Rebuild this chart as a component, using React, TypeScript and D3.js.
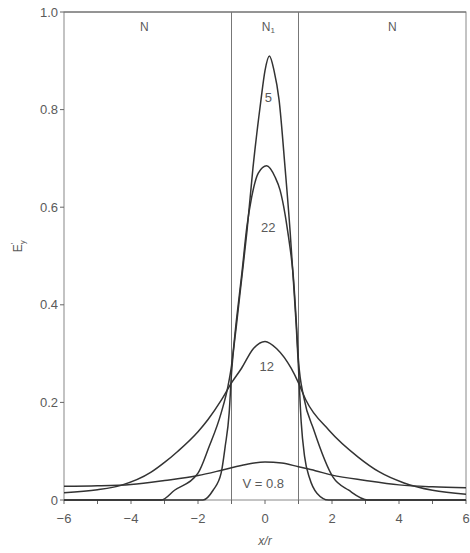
import { useEffect, useRef } from "react";
import * as d3 from "d3";

// curve points: [x/r, Ey]
const curveV5: [number, number][] = [
  [-6, 0], [-3, 0], [-1.85, 0], [-1.55, 0.02], [-1.31, 0.055], [-1.19, 0.109],
  [-1.07, 0.178], [-1.0, 0.26], [-0.85, 0.36], [-0.69, 0.457], [-0.54, 0.55],
  [-0.36, 0.68], [-0.12, 0.82], [0.0, 0.88], [0.13, 0.91], [0.27, 0.88],
  [0.42, 0.82], [0.6, 0.68], [0.75, 0.55], [0.84, 0.457], [0.93, 0.36],
  [1.0, 0.27], [1.08, 0.16], [1.18, 0.09], [1.33, 0.045], [1.55, 0.014],
  [1.9, 0], [3, 0], [6, 0],
];

const curveV22: [number, number][] = [
  [-6, 0], [-3.1, 0], [-2.7, 0.02], [-2.0, 0.055], [-1.67, 0.109], [-1.31, 0.178],
  [-1.1, 0.235], [-1.0, 0.275], [-0.85, 0.37], [-0.69, 0.465], [-0.54, 0.56],
  [-0.4, 0.62], [-0.2, 0.67], [0.05, 0.685], [0.3, 0.662], [0.45, 0.635],
  [0.6, 0.585], [0.7, 0.54], [0.78, 0.5], [0.84, 0.462], [0.93, 0.37], [1.0, 0.285],
  [1.16, 0.21], [1.46, 0.143], [2.03, 0.047], [2.5, 0.02], [3.07, 0], [6, 0],
];

const curveV12: [number, number][] = [
  [-6, 0.015], [-5, 0.021], [-4.3, 0.03], [-3.4, 0.057], [-3.0, 0.077],
  [-2.6, 0.1], [-2.0, 0.14], [-1.7, 0.165], [-1.3, 0.205], [-1.0, 0.24],
  [-0.7, 0.27], [-0.35, 0.31], [0.0, 0.325], [0.35, 0.31], [0.78, 0.27],
  [1.0, 0.24], [1.22, 0.205], [1.91, 0.143], [2.78, 0.088], [3.4, 0.058],
  [4.15, 0.035], [5, 0.02], [6, 0.012],
];

const curveV08: [number, number][] = [
  [-6, 0.028], [-5, 0.029], [-4, 0.032], [-3, 0.04], [-2, 0.05], [-1.3, 0.061],
  [-1, 0.066], [-0.5, 0.074], [0, 0.078], [0.5, 0.076], [1, 0.068], [1.5, 0.06],
  [2, 0.051], [3, 0.04], [4, 0.031], [5, 0.027], [6, 0.025],
];

const curveLabels = [
  { text: "5", x: 0.1, y: 0.826 },
  { text: "22", x: 0.1, y: 0.559 },
  { text: "12", x: 0.05, y: 0.275 },
  { text: "V = 0.8", x: -0.05, y: 0.035 },
];

const xTicks = [-6, -4, -2, 0, 2, 4, 6];
const yTicks = [0, 0.2, 0.4, 0.6, 0.8, 1.0];
const interfaces = [-1, 1];

const W = 470;
const H = 553;

export default function App() {
  const svgRef = useRef<SVGSVGElement>(null);

  useEffect(() => {
    const svg = d3.select(svgRef.current);
    svg.selectAll("*").remove();

    const margin = { top: 12, right: 4, bottom: 53, left: 64 };
    const x = d3.scaleLinear().domain([-6, 6]).range([margin.left, W - margin.right]);
    const y = d3.scaleLinear().domain([0, 1]).range([H - margin.bottom, margin.top]);

    const textCol = "#5a5a5a";
    const font = "'Liberation Sans', Arial, sans-serif";

    // frame
    svg
      .append("rect")
      .attr("x", x(-6))
      .attr("y", y(1))
      .attr("width", x(6) - x(-6))
      .attr("height", y(0) - y(1))
      .attr("fill", "none")
      .attr("stroke", "#888")
      .attr("stroke-width", 1);
    svg
      .append("line")
      .attr("x1", x(-6))
      .attr("x2", x(6))
      .attr("y1", y(1))
      .attr("y2", y(1))
      .attr("stroke", "#666");

    // interfaces at x = ±1
    svg
      .selectAll("line.iface")
      .data(interfaces)
      .join("line")
      .attr("x1", (d) => x(d))
      .attr("x2", (d) => x(d))
      .attr("y1", y(1))
      .attr("y2", y(0))
      .attr("stroke", "#777")
      .attr("stroke-width", 1);

    // x ticks
    const xAll = d3.range(-6, 7, 1);
    svg
      .selectAll("line.xt")
      .data(xAll)
      .join("line")
      .attr("x1", (d) => x(d))
      .attr("x2", (d) => x(d))
      .attr("y1", y(0))
      .attr("y2", y(0) + 4)
      .attr("stroke", "#666");

    svg
      .selectAll("text.xl")
      .data(xTicks)
      .join("text")
      .attr("x", (d) => x(d))
      .attr("y", y(0) + 23)
      .attr("text-anchor", "middle")
      .attr("font-family", font)
      .attr("font-size", 13)
      .attr("fill", textCol)
      .text((d) => (d < 0 ? `\u2212${-d}` : `${d}`));

    // y ticks
    svg
      .selectAll("line.yt")
      .data(yTicks)
      .join("line")
      .attr("x1", x(-6) - 4)
      .attr("x2", x(-6))
      .attr("y1", (d) => y(d))
      .attr("y2", (d) => y(d))
      .attr("stroke", "#666");

    svg
      .selectAll("text.yl")
      .data(yTicks)
      .join("text")
      .attr("x", x(-6) - 6)
      .attr("y", (d) => y(d) + 4.5)
      .attr("text-anchor", "end")
      .attr("font-family", font)
      .attr("font-size", 13)
      .attr("fill", textCol)
      .text((d) => (d === 0 ? "0" : d.toFixed(1)));

    // axis titles
    svg
      .append("text")
      .attr("x", x(0))
      .attr("y", H - 8)
      .attr("text-anchor", "middle")
      .attr("font-family", font)
      .attr("font-style", "italic")
      .attr("font-size", 12)
      .attr("fill", textCol)
      .text("x/r");

    const yt = svg
      .append("text")
      .attr("transform", `translate(22,${y(0.52)}) rotate(-90)`)
      .attr("text-anchor", "middle")
      .attr("font-family", font)
      .attr("font-size", 12)
      .attr("fill", textCol);
    yt.append("tspan").text("E");
    yt.append("tspan").attr("font-size", 8).attr("dy", 3).text("y");
    yt.append("tspan").attr("font-size", 8).attr("dx", -4).attr("dy", -9).text("\u2032");

    // region labels
    const regions = [
      { t: "N", x: -3.6 },
      { t: "N", x: 3.8 },
    ];
    svg
      .selectAll("text.reg")
      .data(regions)
      .join("text")
      .attr("x", (d) => x(d.x))
      .attr("y", y(1) + 19)
      .attr("text-anchor", "middle")
      .attr("font-family", font)
      .attr("font-size", 12)
      .attr("fill", textCol)
      .text((d) => d.t);

    const n1 = svg
      .append("text")
      .attr("x", x(0.1))
      .attr("y", y(1) + 19)
      .attr("text-anchor", "middle")
      .attr("font-family", font)
      .attr("font-size", 12)
      .attr("fill", textCol);
    n1.append("tspan").text("N");
    n1.append("tspan").attr("font-size", 8).attr("dy", 2).text("1");

    // curves
    const line = d3
      .line<[number, number]>()
      .x((d) => x(d[0]))
      .y((d) => y(d[1]))
      .curve(d3.curveMonotoneX);

    [curveV08, curveV12, curveV22, curveV5].forEach((c) => {
      svg
        .append("path")
        .datum(c)
        .attr("fill", "none")
        .attr("stroke", "#333")
        .attr("stroke-width", 1.5)
        .attr("d", line);
    });

    // curve labels
    svg
      .selectAll("text.cl")
      .data(curveLabels)
      .join("text")
      .attr("x", (d) => x(d.x))
      .attr("y", (d) => y(d.y) + 5)
      .attr("text-anchor", "middle")
      .attr("font-family", font)
      .attr("font-size", 13)
      .attr("fill", textCol)
      .text((d) => d.text);
  }, []);

  return (
    <svg
      ref={svgRef}
      width={W}
      height={H}
      style={{ position: "absolute", left: 0, top: 0, background: "#fff" }}
    />
  );
}
